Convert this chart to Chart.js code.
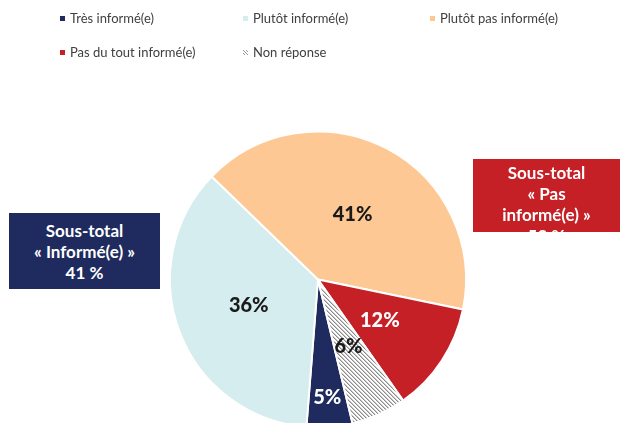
<!DOCTYPE html>
<html>
<head>
<meta charset="utf-8">
<script src="https://cdn.jsdelivr.net/npm/chart.js@4.4.1/dist/chart.umd.min.js"></script>
<style>
  html, body { margin: 0; padding: 0; width: 620px; height: 423px; overflow: hidden; background: #fff; }
  #wrap { position: absolute; left: 0; top: 0; width: 620px; height: 440px; }
  .leg { position: absolute; font: 13px Lato, sans-serif; color: #404040; white-space: nowrap; line-height: 16px; }
  .leg .m { position: absolute; width: 5px; height: 5px; top: 6px; }
  .box { position: absolute; box-sizing: border-box; color: #fff; font: bold 17px Lato, sans-serif;
         line-height: 21px; text-align: center; overflow: visible; }
</style>
</head>
<body>
<div id="wrap"><canvas id="c" width="620" height="440"></canvas></div>
<div id="legend"></div>
<div class="box" id="boxL" style="left:9px; top:213px; width:151px; height:76px; padding-top:7px; background:#1F2B5E;"></div>
<div class="box" id="boxR" style="left:473px; top:159px; width:147px; height:73px; padding-top:3px; background:#C52026;"></div>
<script>
// ---- data ----
const categories = ["Très informé(e)", "Plutôt informé(e)", "Plutôt pas informé(e)", "Pas du tout informé(e)", "Non réponse"];
const values = [5, 36, 41, 12, 6];
const subtotalLabels = ["Sous-total", "« Informé(e) »", "41 %"];
const subtotalLabelsR = ["Sous-total", "« Pas", "informé(e) »", "53 %"];

// ---- styles ----
const colors = ["#1F2B5E", "#D5EDEE", "#FEC895", "#C52026", null];
const labelColors = ["#ffffff", "#1a1a1a", "#1a1a1a", "#ffffff", "#1a1a1a"];
const labelRadius = [0.8, 0.5, 0.5, 0.5, 0.5];

function hatchPattern() {
  const p = document.createElement("canvas");
  p.width = 4; p.height = 4;
  const g = p.getContext("2d");
  g.fillStyle = "#ffffff"; g.fillRect(0, 0, 4, 4);
  g.fillStyle = "#8a8a8a";
  for (let i = 0; i < 4; i++) g.fillRect(i, i, 1, 1);
  g.fillStyle = "rgba(138,138,138,0.45)";
  for (let i = 0; i < 4; i++) g.fillRect((i + 1) % 4, i, 1, 1);
  return document.getElementById("c").getContext("2d").createPattern(p, "repeat");
}
const bg = colors.map(c => c === null ? hatchPattern() : c);

const labelPlugin = {
  id: "pieLabels",
  afterDatasetsDraw(chart) {
    const ctx = chart.ctx;
    const meta = chart.getDatasetMeta(0);
    ctx.save();
    ctx.font = "900 20px Lato, sans-serif";
    ctx.textAlign = "center";
    ctx.textBaseline = "middle";
    meta.data.forEach((arc, i) => {
      const mid = (arc.startAngle + arc.endAngle) / 2;
      const r = arc.outerRadius * labelRadius[i];
      const x = arc.x + Math.cos(mid) * r;
      const y = arc.y + Math.sin(mid) * r;
      ctx.fillStyle = labelColors[i];
      ctx.fillText(values[i] + "%", x, y);
    });
    ctx.restore();
  }
};

new Chart(document.getElementById("c"), {
  type: "pie",
  data: {
    labels: categories,
    datasets: [{ data: values, backgroundColor: bg, borderColor: "#ffffff", borderWidth: 2, hoverOffset: 0 }]
  },
  options: {
    responsive: false,
    devicePixelRatio: 1,
    animation: false,
    events: [],
    rotation: 166.5,
    layout: { padding: { left: 169, right: 153, top: 130.5, bottom: 11.5 } },
    plugins: { legend: { display: false }, tooltip: { enabled: false } }
  },
  plugins: [labelPlugin]
});

// ---- HTML legend ----
const legPos = [[60, 10], [243, 10], [430, 10], [60, 44], [243, 44]];
const legend = document.getElementById("legend");
categories.forEach((name, i) => {
  const d = document.createElement("div");
  d.className = "leg";
  d.style.left = legPos[i][0] + "px";
  d.style.top = legPos[i][1] + "px";
  d.style.paddingLeft = "10px";
  const m = document.createElement("span");
  m.className = "m";
  m.style.left = "0px";
  if (colors[i]) m.style.background = colors[i];
  else m.style.background = "repeating-linear-gradient(45deg, #fff 0 1px, #999 1px 2px)";
  d.appendChild(m);
  d.appendChild(document.createTextNode(name));
  legend.appendChild(d);
});

document.getElementById("boxL").innerHTML = subtotalLabels.join("<br>");
document.getElementById("boxR").innerHTML = subtotalLabelsR.join("<br>");
</script>
</body>
</html>
